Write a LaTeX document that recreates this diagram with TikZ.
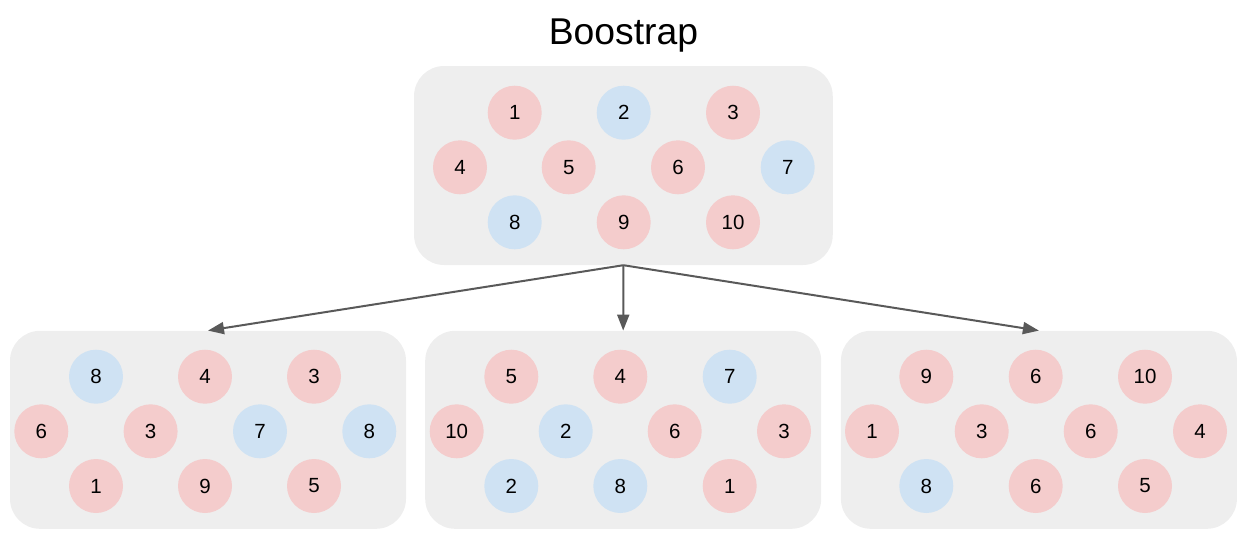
\documentclass[tikz,border=0pt]{standalone}
\usepackage{fontspec}
\setmainfont{Liberation Sans}
\usetikzlibrary{arrows.meta}
\definecolor{rd}{HTML}{F4CCCC}
\definecolor{bl}{HTML}{CFE2F3}
\definecolor{bx}{HTML}{EEEEEE}
\definecolor{ar}{HTML}{595959}
\begin{document}
\begin{tikzpicture}[x=1pt,y=-1pt,
  panel/.style={rectangle, fill=bx, rounded corners=30pt, minimum width=396pt, minimum height=198pt, inner sep=0pt},
  ball/.style={circle, minimum size=54pt, inner sep=0pt, font=\fontsize{20.5}{22}\selectfont},
  redball/.style={ball, fill=rd},
  blueball/.style={ball, fill=bl},
  conn/.style={draw=ar, line width=2pt, -{Triangle[length=16pt,width=12pt]}}]
\useasboundingbox (0,0) rectangle (1247,552);
\node[font=\fontsize{37.3}{40}\selectfont, anchor=base] (title) at (623.5,44.5) {Boostrap};
% panels
\node[panel, minimum width=418.7pt, minimum height=199pt] (top) at (623.4,165.5) {};
\node[panel] (left) at (208,429.8) {};
\node[panel] (mid) at (623.2,429.8) {};
\node[panel] (right) at (1038.9,429.8) {};
% top circles
\foreach \i/\s/\l/\x/\y in {
  1/redball/1/514.7/112.7, 2/blueball/2/623.7/112.7, 3/redball/3/733/112.7,
  4/redball/4/460/167.3, 5/redball/5/568.7/167.3, 6/redball/6/678/167.3, 7/blueball/7/787.7/167.3,
  8/blueball/8/514.7/222.3, 9/redball/9/623.7/222.3, 10/redball/10/733/222.3}
  \node[\s] (t\i) at (\x,\y) {\l};
% left circles
\foreach \i/\s/\l/\x/\y in {
  1/blueball/8/96/376.7, 2/redball/4/205/376.7, 3/redball/3/314/376.7,
  4/redball/6/41.3/431.3, 5/redball/3/150.6/431.3, 6/blueball/7/260/431.3, 7/blueball/8/369.3/431.3,
  8/redball/1/96/486, 9/redball/9/205/486, 10/redball/5/314/486}
  \node[\s] (l\i) at (\x,\y) {\l};
% middle circles
\foreach \i/\s/\l/\x/\y in {
  1/redball/5/511.3/376.7, 2/redball/4/620.3/376.7, 3/blueball/7/729.7/376.7,
  4/redball/10/456.7/431.3, 5/blueball/2/565.7/431.3, 6/redball/6/674.7/431.3, 7/redball/3/784/431.3,
  8/blueball/2/511.3/486, 9/blueball/8/620.3/486, 10/redball/1/729.7/486}
  \node[\s] (m\i) at (\x,\y) {\l};
% right circles
\foreach \i/\s/\l/\x/\y in {
  1/redball/9/926.3/376.7, 2/redball/6/1035.7/376.7, 3/redball/10/1145/376.7,
  4/redball/1/872/431.3, 5/redball/3/981.7/431.3, 6/redball/6/1090.7/431.3, 7/redball/4/1200/431.3,
  8/blueball/8/926.3/486, 9/redball/6/1035.7/486, 10/redball/5/1145/486}
  \node[\s] (r\i) at (\x,\y) {\l};
% connectors
\draw[conn] (top.south) -- (left.north);
\draw[conn] (top.south) -- (mid.north);
\draw[conn] (top.south) -- (right.north);
\end{tikzpicture}
\end{document}
